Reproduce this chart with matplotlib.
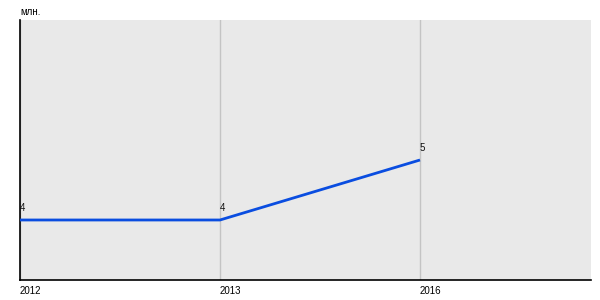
import matplotlib
matplotlib.use("Agg")
import matplotlib.pyplot as plt

years = ["2012", "2013", "2016"]
values = [4, 4, 5]
labels = ["4", "4", "5"]
unit = "млн."

plt.rcParams['font.family'] = ['Liberation Sans', 'DejaVu Sans']

fig = plt.figure(figsize=(6, 3), dpi=100)
ax = fig.add_axes([20/600, 20/300, 571/600, 260/300])
ax.set_facecolor('#e9e9e9')
x = list(range(len(years)))
ax.plot(x, values, color='#0a4de0', lw=2, solid_capstyle='butt', zorder=3)
for xi in x:
    ax.axvline(xi, color='#c4c4c4', lw=1, zorder=1)
for xi, v, l in zip(x, values, labels):
    ax.annotate(l, (xi, v), xytext=(0, 5), textcoords='offset points',
                ha='left', va='bottom', fontsize=7, color='#111111')
ax.set_xlim(0, 2.855)
ax.set_ylim(3, 7.333)
ax.set_xticks(x)
ax.set_xticklabels(years, fontsize=7, ha='left')
ax.tick_params(axis='x', length=0, pad=4)
ax.set_yticks([])
for s in ['top', 'right']:
    ax.spines[s].set_visible(False)
ax.spines['left'].set_linewidth(1.2)
ax.spines['bottom'].set_linewidth(1.2)
fig.text(20/600, 1 - 12/300, unit, fontsize=7, ha='left', va='center')
fig.savefig('out.png', dpi=100)
